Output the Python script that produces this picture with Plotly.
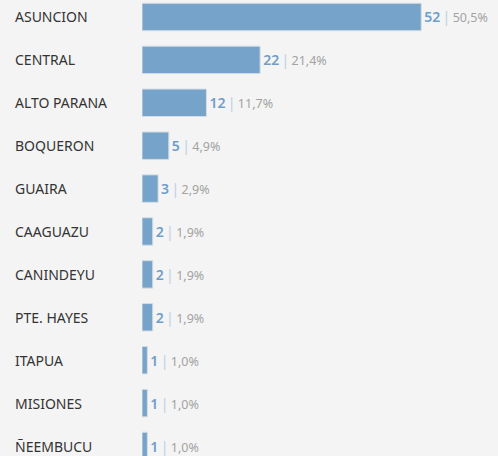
import plotly.graph_objects as go

categories = ["ASUNCION", "CENTRAL", "ALTO PARANA", "BOQUERON", "GUAIRA", "CAAGUAZU",
              "CANINDEYU", "PTE. HAYES", "ITAPUA", "MISIONES", "ÑEEMBUCU"]
values = [52, 22, 12, 5, 3, 2, 2, 2, 1, 1, 1]
percents = ["50,5%", "21,4%", "11,7%", "4,9%", "2,9%", "1,9%", "1,9%", "1,9%", "1,0%", "1,0%", "1,0%"]

FONT = "Noto Sans"

texts = [f"<span style='color:#6f9ec9;font-weight:600'>{v}</span>"
         f"<span style='color:#bcd0e3'>\u2009|\u2009</span>"
         f"<span style='color:#a3a3a3;font-size:12.5px'>{p}</span>"
         for v, p in zip(values, percents)]

fig = go.Figure(go.Bar(
    x=values, y=categories, orientation="h",
    marker=dict(color="#75a3c9", line=dict(color="#d6dde3", width=1)),
    width=0.64,
    text=texts, textposition="outside", cliponaxis=False,
    textfont=dict(family=FONT, size=14, color="#6f9ec9"),
    hoverinfo="skip",
))

for c in categories:
    fig.add_annotation(x=0, xref="paper", y=c, yref="y", text=c, showarrow=False,
                       xanchor="left", xshift=-129,
                       font=dict(family=FONT, size=14, color="#333333"))

fig.update_layout(
    width=498, height=456,
    margin=dict(l=142, r=0, t=0, b=0),
    paper_bgcolor="#f4f4f4", plot_bgcolor="#f4f4f4",
    showlegend=False,
    xaxis=dict(range=[0, 66.3], visible=False),
    yaxis=dict(categoryorder="array", categoryarray=categories,
               range=[10.233, -0.396], visible=False),
)

fig.write_html("out.html", config={"displayModeBar": False},
               post_script="document.body.style.margin='0';document.body.style.overflow='hidden';document.body.style.background='#f4f4f4';")
